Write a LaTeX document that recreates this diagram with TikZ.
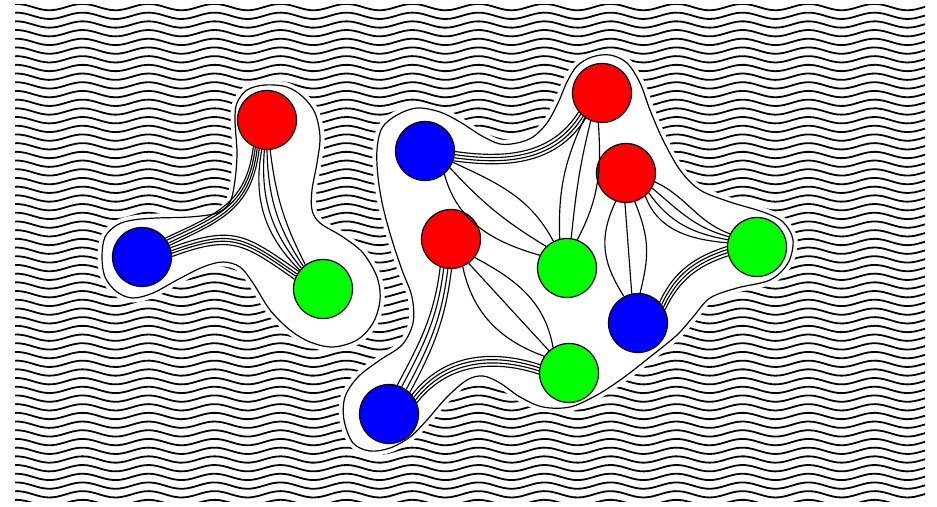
\documentclass[tikz,border=0pt]{standalone}
\usetikzlibrary{calc}
\tikzset{
  vtx/.style={circle, draw=black, line width=1.2pt, minimum size=59pt, inner sep=0pt},
  rvtx/.style={vtx, fill=red},
  bvtx/.style={vtx, fill=blue},
  gvtx/.style={vtx, fill=green},
  strand/.style={draw=black, line width=1.15pt},
  wave/.style={draw=black, line width=1.8pt},
  blob/.style={fill=white, draw=black, line width=1.2pt,
               preaction={draw=white, line width=9pt}},
}
\begin{document}
\begin{tikzpicture}[x=1pt, y=1pt]
  \useasboundingbox (0,0) rectangle (937,506);
  % wavy background
  \begin{scope}
    \clip (15,5) rectangle (925,501);
    \foreach \i in {0,...,57}
      \draw[wave] plot[domain=10:930, samples=120, smooth]
        (\x, {3+\i*8.7+3.2*sin(5.4545*\x)});
  \end{scope}

  % islands
  \path[blob] plot[smooth cycle, tension=0.55] coordinates {
    (247,416) (265,421) (287,419) (303,409) (315,393) (320,369) (317,343)
    (312,316) (312,296) (320,283) (343,269) (363,253) (377,229) (380,206)
    (373,183) (357,166) (333,159) (310,164) (290,176) (270,196) (253,223)
    (240,239) (223,244) (203,239) (177,226) (153,213) (133,208) (117,214)
    (105,229) (102,249) (105,269) (117,281) (133,286) (157,288) (190,289)
    (217,293) (230,304) (235,326) (237,353) (235,386) (237,403)};
  \path[blob] plot[smooth cycle, tension=0.55] coordinates {
    (610,451) (627,443) (640,423) (650,396) (663,366) (680,336) (700,316)
    (730,304) (763,294) (783,284) (793,266) (788,243) (770,226) (737,218)
    (710,208) (693,189) (677,171) (650,149) (623,128) (597,111) (570,99)
    (543,99) (520,109) (500,123) (483,130) (467,126) (447,109) (427,86)
    (410,69) (390,58) (370,55) (353,63) (344,86) (345,109) (358,129)
    (380,146) (402,161) (413,183) (412,209) (402,236) (392,266) (383,299)
    (378,329) (377,356) (382,378) (397,391) (417,398) (440,394) (460,384)
    (482,370) (500,362) (517,363) (533,369) (547,383) (558,403) (567,424)
    (577,440) (592,449)};

  % vertices
  \node[rvtx] (lr) at (267,386) {};
  \node[bvtx] (lb) at (142,249) {};
  \node[gvtx] (lg) at (323,217) {};
  \node[bvtx] (b1) at (425,355) {};
  \node[rvtx] (r1) at (602,413) {};
  \node[rvtx] (r2) at (626,333) {};
  \node[rvtx] (r3) at (451,267) {};
  \node[gvtx] (g1) at (567,238) {};
  \node[gvtx] (g2) at (757,259) {};
  \node[bvtx] (b2) at (638,183) {};
  \node[gvtx] (g3) at (569,133) {};
  \node[bvtx] (b3) at (389,92) {};

  % left group
  \foreach \a/\b in {243/39, 247/34, 251/28, 255/23}
    \draw[strand] (lr.\a) to[out=263, in=25, looseness=1.15] (lb.\b);
  \foreach \a/\b/\t in {260/141/28, 265/136/22, 270/131/16, 276/126/10}
    \draw[strand] (lr.\a) to[bend right=\t] (lg.\b);
  \foreach \a/\b in {18/144, 12/150, 7/155, 1/161}
    \draw[strand] (lb.\a) to[out=20, in=145, looseness=1.3] (lg.\b);

  % right group
  \foreach \a/\b in {359/219, 353/225, 347/231, 341/237}
    \draw[strand] (b1.\a) to[out=352, in=238] (r1.\b);
  \draw[strand] (b1.310) to[out=285, in=164] (g1.155);
  \draw[strand] (b1.326) to[bend right=8] (g1.134);
  \draw[strand] (b1.338) to[out=335, in=118] (g1.117);
  \draw[strand] (r1.235) to[out=245, in=92] (g1.104);
  \draw[strand] (r1.248) to[out=256, in=84] (g1.82);
  \draw[strand] (r1.263) to[out=274, in=62] (g1.70);
  \draw[strand] (r2.250) to[out=245, in=122, looseness=1.1] (b2.118);
  \draw[strand] (r2.268) -- (b2.102);
  \draw[strand] (r2.287) to[out=292, in=76, looseness=1.1] (b2.86);
  \foreach \a/\b/\o/\i in {343/154/335/160, 330/160/320/165, 319/166/305/170, 310/172/290/175}
    \draw[strand] (r2.\a) to[out=\o, in=\i] (g2.\b);
  \foreach \a/\b in {26/197, 32/191, 38/185, 44/179}
    \draw[strand] (b2.\a) to[out=65, in=198] (g2.\b);
  \draw[strand] (r3.293) to[out=282, in=160] (g3.146);
  \draw[strand] (r3.306) -- (g3.132);
  \draw[strand] (r3.322) to[out=332, in=100] (g3.122);
  \foreach \a/\b in {249/74, 256/65, 264/55, 271/46}
    \draw[strand] (r3.\a) to[out=263, in=62] (b3.\b);
  \foreach \a/\b in {22/182, 28/176, 34/170, 40/164}
    \draw[strand] (b3.\a) to[out=52, in=162] (g3.\b);
\end{tikzpicture}
\end{document}
